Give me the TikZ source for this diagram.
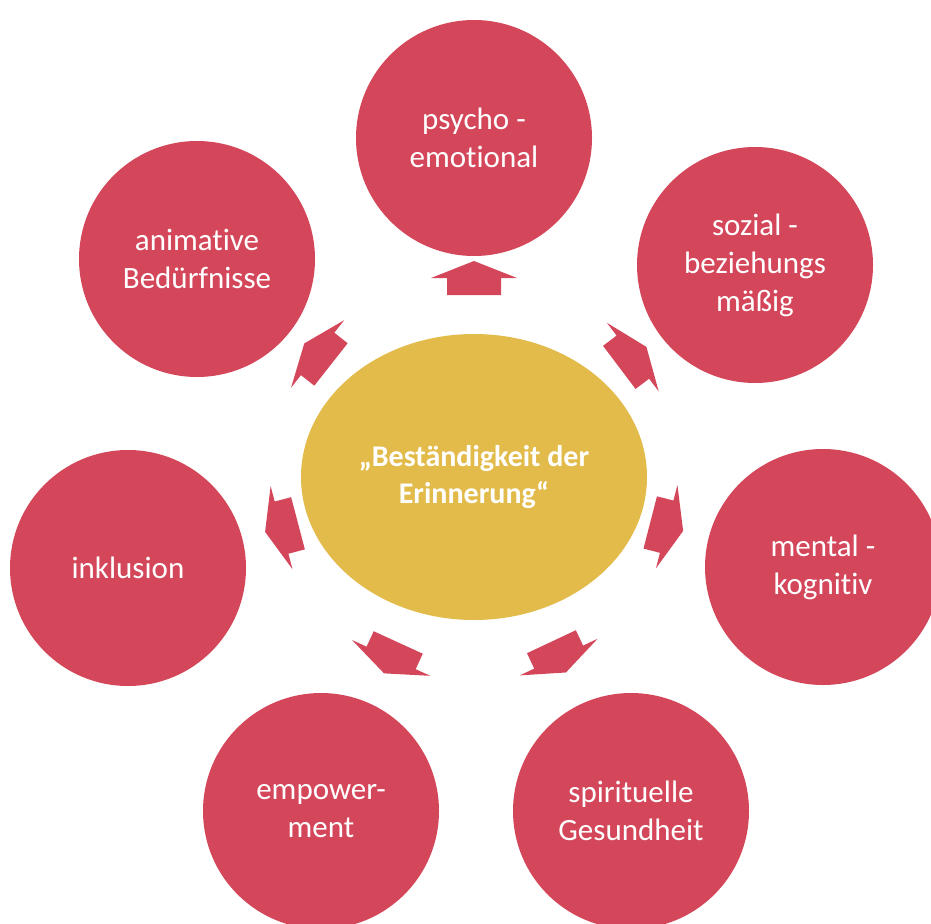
\documentclass[tikz,border=0pt]{standalone}
\usepackage{fontspec}
\setmainfont{Carlito}[Ligatures={NoCommon,NoContextual}]
\usetikzlibrary{calc,shapes.geometric}
\definecolor{petalred}{HTML}{D4475A}
\definecolor{hubgold}{HTML}{E2BB4A}
\begin{document}
\begin{tikzpicture}[x=1pt,y=-1pt,
  petal/.style={circle, fill=petalred, minimum size=236pt, inner sep=0pt,
    text=white, align=center, font=\fontsize{31}{38}\selectfont},
  hub/.style={ellipse, fill=hubgold, minimum width=346pt, minimum height=286pt,
    inner sep=0pt, text=white, align=center, font=\bfseries\fontsize{30}{37}\selectfont},
  blockarrow/.style={fill=petalred}]
  \clip (0,0) rectangle (931,923);

  % central idea
  \node[hub] (core) at (474,477) {„Beständigkeit der\\Erinnerung“};

  % surrounding aspects
  \node[petal] (psy)  at (474,138) {psycho -\\emotional};
  \node[petal] (soz)  at (755,265) {sozial -\\beziehungs\\mäßig};
  \node[petal] (men)  at (823,567) {mental -\\kognitiv};
  \node[petal] (spi)  at (631,811) {spirituelle\\Gesundheit};
  \node[petal] (emp)  at (321,811) {empower-\\ment};
  \node[petal] (ink)  at (128,568) {inklusion};
  \node[petal] (ani)  at (197,259) {animative\\Bedürfnisse};

  % block arrows from the centre towards each aspect
  \foreach \n in {psy,soz,men,spi,emp,ink,ani} {
    \pgfmathanglebetweenpoints{\pgfpointanchor{core}{center}}{\pgfpointanchor{\n}{center}}
    \let\ang\pgfmathresult
    \fill[blockarrow, shift={($(core.center)!199pt!(\n.center)$)}, rotate=\ang]
      (-17,-27) -- (0,-27) -- (0,-43) -- (17,0) -- (0,43) -- (0,27) -- (-17,27) -- cycle;
  }
\end{tikzpicture}
\end{document}
